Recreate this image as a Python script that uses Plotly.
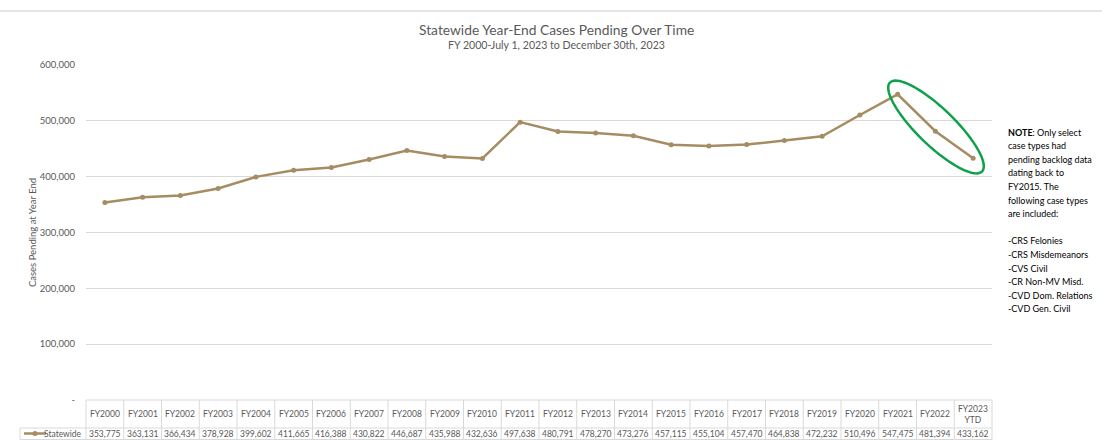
import math
import plotly.graph_objects as go

categories = ["FY2000", "FY2001", "FY2002", "FY2003", "FY2004", "FY2005", "FY2006", "FY2007",
              "FY2008", "FY2009", "FY2010", "FY2011", "FY2012", "FY2013", "FY2014", "FY2015",
              "FY2016", "FY2017", "FY2018", "FY2019", "FY2020", "FY2021", "FY2022", "FY2023<br>YTD"]
statewide = [353775, 363131, 366434, 378928, 399602, 411665, 416388, 430822,
             446687, 435988, 432636, 497638, 480791, 478270, 473276, 457115,
             455104, 457470, 464838, 472232, 510496, 547475, 481394, 433162]
ytick_vals = [0, 100000, 200000, 300000, 400000, 500000, 600000]
ytick_text = ["-", "100,000", "200,000", "300,000", "400,000", "500,000", "600,000"]

W_FIG, H_FIG = 1102, 440
L, R, T, B = 86, 992, 65, 400
PW, PH = R - L, B - T
FONT = "Lato, 'Open Sans', sans-serif"
GREY_TXT = "#595959"
GRID = "#d9d9d9"
LINE_C = "#A68C62"

def px(x):
    return (x - L) / PW

def py(y):
    return (B - y) / PH

n = len(categories)
xs = list(range(n))

fig = go.Figure()
fig.add_trace(go.Scatter(
    x=xs, y=statewide, mode="lines+markers",
    line=dict(color=LINE_C, width=2.5),
    marker=dict(color=LINE_C, size=5),
    name="Statewide", showlegend=False, hoverinfo="skip",
))

shapes = []
annotations = []

# top border line
shapes.append(dict(type="line", xref="paper", yref="paper", x0=px(0), x1=px(W_FIG),
                   y0=py(11), y1=py(11), line=dict(color="#dcdcdc", width=1.5)))

# table
colw = PW / n
tbl_top, tbl_mid, tbl_bot = 400, 428, 439.5
lab_left = 20
for k in range(n + 1):
    xk = L + k * colw
    shapes.append(dict(type="line", xref="paper", yref="paper", x0=px(xk), x1=px(xk),
                       y0=py(tbl_top), y1=py(tbl_bot), line=dict(color=GRID, width=1)))
shapes.append(dict(type="line", xref="paper", yref="paper", x0=px(L), x1=px(R),
                   y0=py(tbl_top), y1=py(tbl_top), line=dict(color=GRID, width=1)))
shapes.append(dict(type="line", xref="paper", yref="paper", x0=px(lab_left), x1=px(R),
                   y0=py(tbl_mid), y1=py(tbl_mid), line=dict(color=GRID, width=1)))
shapes.append(dict(type="line", xref="paper", yref="paper", x0=px(lab_left), x1=px(R),
                   y0=py(tbl_bot), y1=py(tbl_bot), line=dict(color=GRID, width=1)))
shapes.append(dict(type="line", xref="paper", yref="paper", x0=px(lab_left), x1=px(lab_left),
                   y0=py(tbl_mid), y1=py(tbl_bot), line=dict(color=GRID, width=1)))

for i, (c, v) in enumerate(zip(categories, statewide)):
    xc = L + (i + 0.5) * colw
    annotations.append(dict(xref="paper", yref="paper", x=px(xc), y=py(414), text=c,
                            showarrow=False, font=dict(family=FONT, size=8.5, color=GREY_TXT),
                            xanchor="center", yanchor="middle"))
    annotations.append(dict(xref="paper", yref="paper", x=px(xc), y=py(433.5), text=f"{v:,}",
                            showarrow=False, font=dict(family=FONT, size=8.5, color=GREY_TXT),
                            xanchor="center", yanchor="middle"))

# legend key in row label
shapes.append(dict(type="line", xref="paper", yref="paper", x0=px(24), x1=px(46),
                   y0=py(433.5), y1=py(433.5), line=dict(color=LINE_C, width=2.5)))
shapes.append(dict(type="circle", xref="paper", yref="paper", x0=px(32.5), x1=px(37.5),
                   y0=py(436), y1=py(431), fillcolor=LINE_C, line=dict(color=LINE_C, width=0)))
annotations.append(dict(xref="paper", yref="paper", x=px(84), y=py(433.5), text="Statewide",
                        showarrow=False, font=dict(family=FONT, size=8.5, color=GREY_TXT),
                        xanchor="right", yanchor="middle"))

# green ellipse highlight
cx, cy, a, b, ang = 936, 127, 64, 18.5, math.radians(44)
pts = []
for j in range(73):
    t = 2 * math.pi * j / 72
    ex = a * math.cos(t)
    ey = b * math.sin(t)
    X = cx + ex * math.cos(ang) - ey * math.sin(ang)
    Y = cy + ex * math.sin(ang) + ey * math.cos(ang)
    pts.append((px(X), py(Y)))
path = "M " + " L ".join(f"{p[0]:.5f},{p[1]:.5f}" for p in pts) + " Z"
shapes.append(dict(type="path", xref="paper", yref="paper", path=path,
                   line=dict(color="#0FA14A", width=2.5)))

# titles
annotations.append(dict(xref="paper", yref="paper", x=px(556), y=py(30),
                        text="Statewide Year-End Cases Pending Over Time", showarrow=False,
                        font=dict(family=FONT, size=13.8, color=GREY_TXT),
                        xanchor="center", yanchor="middle"))
annotations.append(dict(xref="paper", yref="paper", x=px(556), y=py(45),
                        text="FY 2000-July 1, 2023 to December 30th, 2023", showarrow=False,
                        font=dict(family=FONT, size=10.6, color=GREY_TXT),
                        xanchor="center", yanchor="middle"))

# note
note_lines = ["<b>NOTE</b>: Only select", "case types had", "pending backlog data",
              "dating back to", "FY2015. The", "following case types", "are included:", "",
              "-CRS Felonies", "-CRS Misdemeanors", "-CVS Civil", "-CR Non-MV Misd.",
              "-CVD Dom. Relations", "-CVD Gen. Civil"]
y0 = 132
for i, ln in enumerate(note_lines):
    if not ln:
        continue
    annotations.append(dict(xref="paper", yref="paper", x=px(1006), y=py(y0 + i * 13.6), text=ln,
                            showarrow=False, font=dict(family=FONT, size=9, color="#000000"),
                            xanchor="left", yanchor="middle"))

fig.update_layout(
    width=W_FIG, height=H_FIG,
    margin=dict(l=L, r=W_FIG - R, t=T, b=H_FIG - B),
    plot_bgcolor="white", paper_bgcolor="white",
    showlegend=False,
    font=dict(family=FONT, color=GREY_TXT),
    xaxis=dict(range=[-0.5, n - 0.5], showticklabels=False, showgrid=False, zeroline=False,
               showline=False, ticks="", fixedrange=True),
    yaxis=dict(range=[0, 600000], tickvals=ytick_vals, ticktext=ytick_text,
               showgrid=True, gridcolor=GRID, gridwidth=1, zeroline=False, showline=False,
               ticks="", ticklabelstandoff=10, tickfont=dict(family=FONT, size=9.5, color=GREY_TXT),
               title=dict(text="Cases Pending at Year End", font=dict(family=FONT, size=9.5, color=GREY_TXT),
                          standoff=1)),
    shapes=shapes,
    annotations=annotations,
)

fig.write_html("out.html", config={"displayModeBar": False, "staticPlot": True},
               post_script="document.body.style.margin='0';document.body.style.overflow='hidden';")
